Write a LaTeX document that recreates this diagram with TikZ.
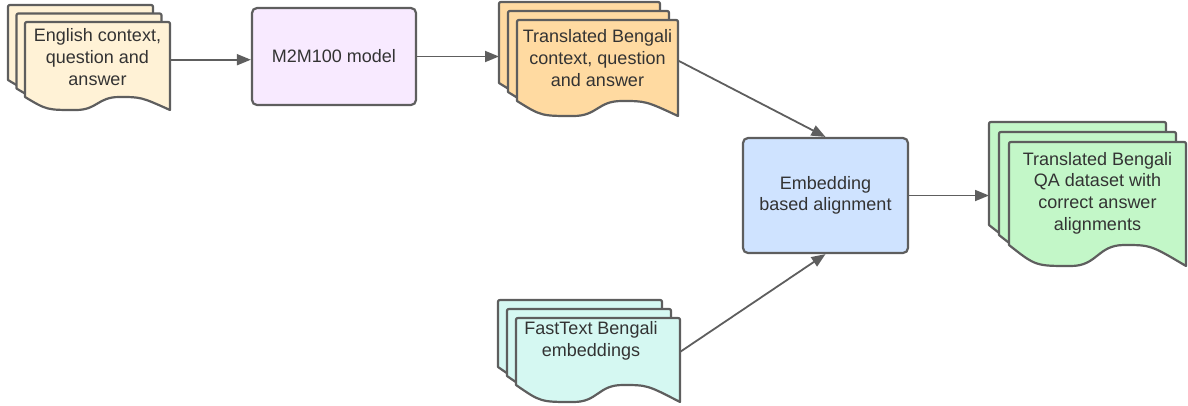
\documentclass[tikz,border=0pt]{standalone}
\usepackage{fontspec}
\setmainfont{Liberation Sans}
\usetikzlibrary{arrows.meta}

\definecolor{edge}{HTML}{5E5E5E}
\definecolor{ink}{HTML}{333333}
\definecolor{cream}{HTML}{FFF2D6}
\definecolor{lav}{HTML}{F8EAFF}
\definecolor{peach}{HTML}{FFDAA1}
\definecolor{skyblue}{HTML}{CFE3FF}
\definecolor{mint}{HTML}{C3F7C8}
\definecolor{aqua}{HTML}{D5F8F2}

\tikzset{
  pageline/.style={draw=edge, line width=2.2bp, line join=round},
  txt/.style={align=center, text=ink, inner sep=0pt,
              font=\fontsize{18bp}{21.6bp}\selectfont},
  procbox/.style={txt, draw=edge, line width=2.2bp, rounded corners=5bp},
  hidden/.style={anchor=north west, inner sep=0pt, draw=none},
  arr/.style={draw=edge, line width=1.8bp, -{Triangle[length=14bp,width=11bp]}},
}

% one document sheet: x, y (top left), width, height of left edge, wave depth, fill
\newcommand\onepage[6]{%
  \filldraw[pageline, fill=#6]
    (#1,#2+#4) -- (#1,#2+4) .. controls (#1,#2) .. (#1+4,#2)
    -- (#1+#3-4,#2) .. controls (#1+#3,#2) .. (#1+#3,#2+4)
    -- (#1+#3,#2+#4+#5)
    .. controls (#1+0.8*#3,#2+#4) .. (#1+0.65*#3,#2+#4)
    .. controls (#1+0.5*#3,#2+#4) and (#1+0.5*#3,#2+#4+#5) .. (#1+0.35*#3,#2+#4+#5)
    .. controls (#1+0.15*#3,#2+#4+#5) .. (#1,#2+#4) -- cycle;}

% stack of three sheets: front x, y, width, height, wave, offset, fill, name
\newcommand\docstack[8]{%
  \onepage{#1-2*#6}{#2-2*#6}{#3}{#4}{#5}{#7}
  \onepage{#1-#6}{#2-#6}{#3}{#4}{#5}{#7}
  \onepage{#1}{#2}{#3}{#4}{#5}{#7}
  \node[hidden, minimum width=#3bp, minimum height=#4bp] (#8-f) at (#1,#2) {};
  \node[hidden, minimum width=#3bp, minimum height=#4bp] (#8-b) at (#1-2*#6,#2-2*#6) {};
}

\begin{document}
\begin{tikzpicture}[x=1bp, y=-1bp]
  \useasboundingbox (0,0) rectangle (1188,405);

  % document stacks
  \docstack{25}{22}{145}{75}{13}{8.5}{cream}{doc1}
  \docstack{517}{20}{161}{81}{15}{9}{peach}{doc2}
  \docstack{1009}{142}{177}{103}{21}{10}{mint}{doc3}
  \docstack{516}{318}{164}{67}{17}{9}{aqua}{doc4}

  \node[txt] (doc1-t) at (97.5,57) {English context,\\question and\\answer};
  \node[txt] (doc2-t) at (597.5,58) {Translated Bengali\\context, question\\and answer};
  \node[txt] (doc3-t) at (1097.5,193) {Translated Bengali\\QA dataset with\\correct answer\\alignments};
  \node[txt] (doc4-t) at (591,341) {FastText Bengali\\embeddings};

  % process boxes
  \node[procbox, fill=lav, minimum width=164bp, minimum height=97bp] (m2m) at (334,56.5) {M2M100 model};
  \node[procbox, fill=skyblue, minimum width=165bp, minimum height=115bp] (embed) at (825.5,195.5) {Embedding\\based alignment};

  % connectors
  \draw[arr] (doc1-f.east) -- (doc1-f.east -| m2m.west);
  \draw[arr] (m2m.east) -- (m2m.east -| doc2-b.west);
  \draw[arr] (doc2-f.east) -- (embed.north);
  \draw[arr] (doc4-f.east) -- (embed.south);
  \draw[arr] (embed.east) -- (embed.east -| doc3-b.west);
\end{tikzpicture}
\end{document}
